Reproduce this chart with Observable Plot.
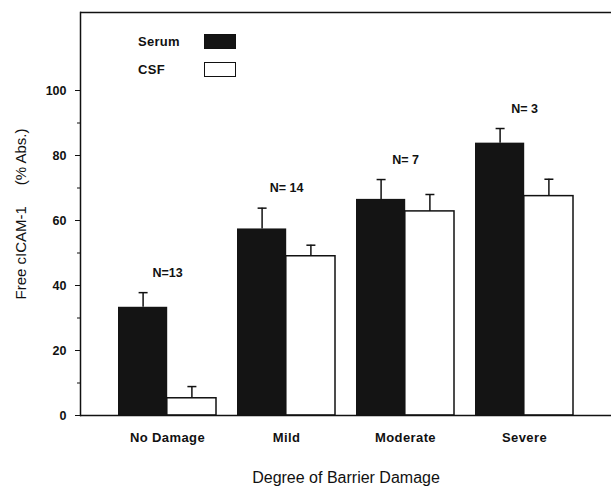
<!DOCTYPE html>
<html>
<head>
<meta charset="utf-8">
<script src="https://cdn.jsdelivr.net/npm/d3@7"></script>
<script src="https://cdn.jsdelivr.net/npm/@observablehq/plot@0.6"></script>
<style>
  body { margin: 0; background: #fff; }
  #wrap { position: relative; width: 611px; height: 486px; font-family: "Liberation Sans", Arial, sans-serif; }
  #legend { position: absolute; left: 138px; top: 33px; font-weight: bold; font-size: 13px; color: #111; letter-spacing: 0.3px; }
  .row { display: flex; align-items: center; height: 16px; margin-bottom: 12px; }
  .row span.lab { width: 66px; }
  .sw { width: 32px; height: 15px; box-sizing: border-box; border: 1.5px solid #111; }
  g[aria-label="x-axis label"] text { font-size: 16px; }
  g[aria-label="y-axis label"] text { font-size: 15px; }
  g[aria-label="x-axis tick label"] text { font-size: 13px; font-weight: bold; letter-spacing: 0.4px; }
  g[aria-label="y-axis tick label"] text { font-size: 12.5px; font-weight: bold; }
</style>
</head>
<body>
<div id="wrap"></div>
<script>
const categories = ["No Damage", "Mild", "Moderate", "Severe"];
const series = ["Serum", "CSF"];
const serumMean = [33.3, 57.4, 66.5, 83.8];
const serumErr = [37.8, 63.8, 72.6, 88.3];
const csfMean = [5.3, 49.0, 62.8, 67.5];
const csfErr = [8.9, 52.4, 68.0, 72.7];
const nLabels = ["N=13", "N= 14", "N= 7", "N= 3"];
const yMajorTicks = [0, 20, 40, 60, 80, 100];
const yMinorTicks = [10, 30, 50, 70, 90];
const yMax = 124;
const colors = {Serum: "#141414", CSF: "#ffffff"};

const serumData = categories.map((c, i) => ({cat: c, value: serumMean[i], err: serumErr[i]}));
const csfData = categories.map((c, i) => ({cat: c, value: csfMean[i], err: csfErr[i]}));
const labelData = categories.map((c, i) => ({cat: c, top: Math.max(serumErr[i], csfErr[i]), text: nLabels[i]}));

const half = 48.8;
const font = "Liberation Sans, Arial, sans-serif";

// horizontal cap symbol for error bars
const capSymbol = {
  draw(context) {
    context.moveTo(-4.5, 0);
    context.lineTo(4.5, 0);
  }
};

const chart = Plot.plot({
  width: 611,
  height: 486,
  marginLeft: 80,
  marginRight: 0,
  marginTop: 12,
  marginBottom: 71,
  style: {fontFamily: font, fontSize: "12px", color: "#111", background: "#fff"},
  x: {domain: categories, paddingInner: 0.18, paddingOuter: 0.32},
  y: {domain: [0, yMax]},
  marks: [
    Plot.axisX({tickSize: 0, tickPadding: 17, label: "Degree of Barrier Damage", labelAnchor: "center", labelOffset: 67}),
    Plot.axisY({ticks: yMajorTicks, tickSize: 5, tickPadding: 9, label: "Free cICAM-1\u00a0\u00a0\u00a0\u00a0\u00a0(% Abs.)", labelAnchor: "center", labelArrow: "none", labelOffset: 65}),
    Plot.axisY({ticks: yMinorTicks, tickSize: 3, tickFormat: () => "", label: null}),
    Plot.barY(serumData, {x: "cat", y: "value", fill: colors.Serum, insetRight: half}),
    Plot.barY(csfData, {x: "cat", y: "value", fill: colors.CSF, stroke: "#111", strokeWidth: 1.5, insetLeft: half}),
    Plot.ruleX(serumData, {x: "cat", y1: "value", y2: "err", dx: -half / 2, stroke: "#111", strokeWidth: 1.5}),
    Plot.dot(serumData, {x: "cat", y: "err", dx: -half / 2, symbol: capSymbol, r: 4.5, fill: "none", stroke: "#111", strokeWidth: 1.5}),
    Plot.ruleX(csfData, {x: "cat", y1: "value", y2: "err", dx: half / 2, stroke: "#111", strokeWidth: 1.5}),
    Plot.dot(csfData, {x: "cat", y: "err", dx: half / 2, symbol: capSymbol, r: 4.5, fill: "none", stroke: "#111", strokeWidth: 1.5}),
    Plot.text(labelData, {x: "cat", y: "top", text: "text", dy: -20, fontWeight: "bold", fontSize: 12.5}),
    Plot.ruleY([0], {stroke: "#111", strokeWidth: 1.5}),
    Plot.ruleY([yMax], {stroke: "#111", strokeWidth: 1.5}),
    Plot.frame({anchor: "left", stroke: "#111", strokeWidth: 1.5})
  ]
});

const wrap = document.getElementById("wrap");
wrap.appendChild(chart);
const legend = document.createElement("div");
legend.id = "legend";
legend.innerHTML = series.map(s => `<div class="row"><span class="lab">${s}</span><div class="sw" style="background:${colors[s]}"></div></div>`).join("");
wrap.appendChild(legend);
</script>
</body>
</html>
